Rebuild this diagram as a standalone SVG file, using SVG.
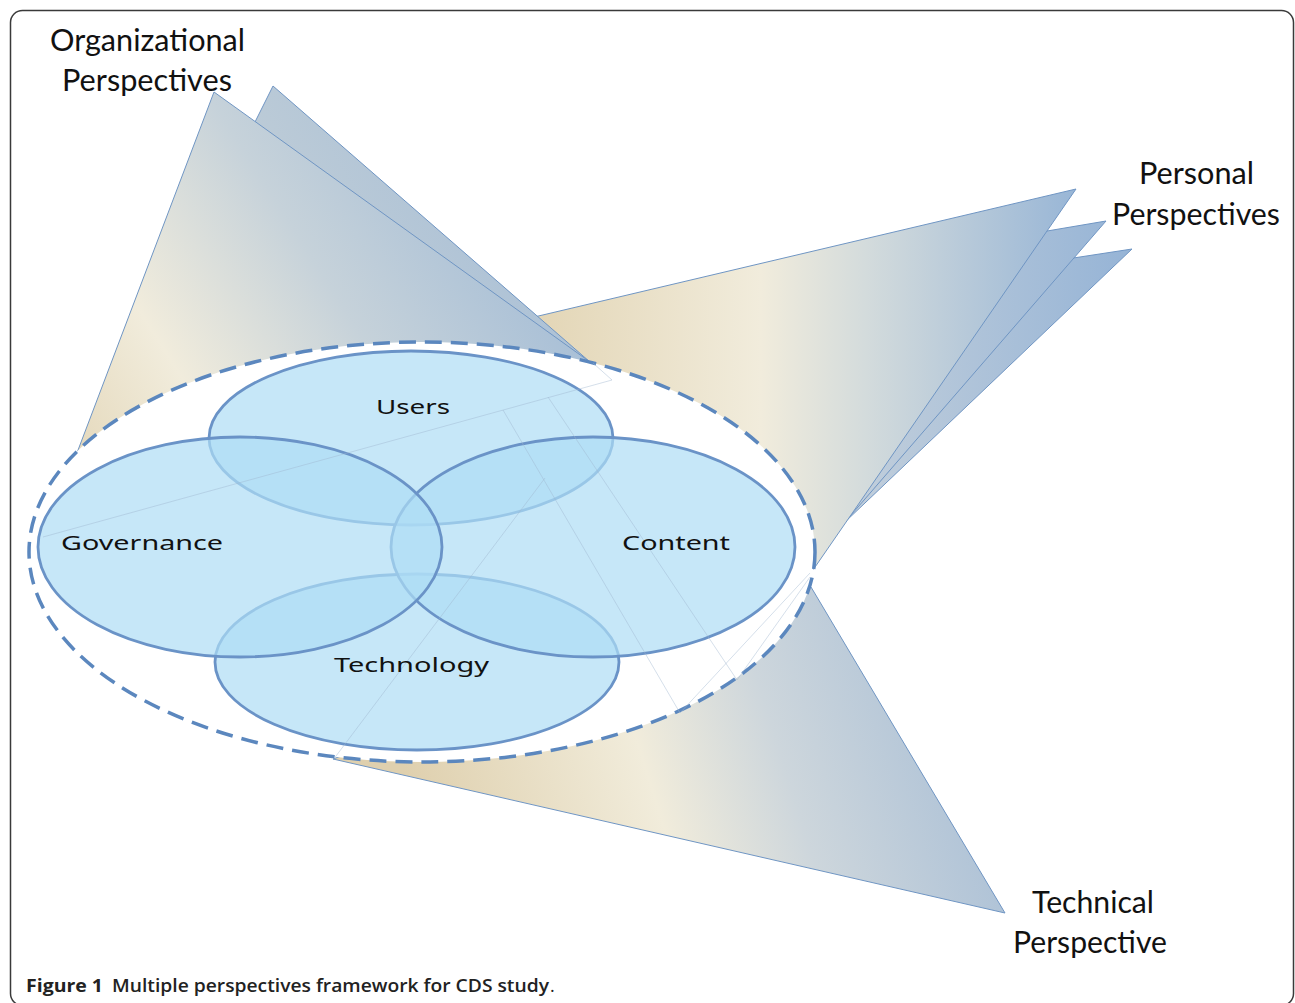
<svg xmlns="http://www.w3.org/2000/svg" width="1295" height="1003" viewBox="0 0 1295 1003">
<style>
.tri{stroke:#6f95c3;stroke-width:1;}
.venn{fill:rgb(174,221,245);fill-opacity:0.7;stroke:#6a93c7;stroke-width:2.8;}
.vl{font-family:"Noto Sans","Open Sans",sans-serif;font-size:20px;fill:#111;}
.pl{font-family:Lato,"Open Sans",sans-serif;font-size:30px;fill:#111;}
.faint{fill:none;stroke:#9fb6cf;stroke-width:0.8;stroke-opacity:0.55;}
.cap{font-family:"Open Sans","Liberation Sans",sans-serif;font-size:18px;fill:#222;}
</style>
<defs>
<linearGradient id="gOrgF" gradientUnits="userSpaceOnUse" x1="60" y1="470" x2="520" y2="180">
<stop offset="0" stop-color="#e3d6b7"/><stop offset="0.28" stop-color="#f1ecdc"/><stop offset="0.6" stop-color="#c6d2da"/><stop offset="1" stop-color="#a3bcd6"/>
</linearGradient>
<linearGradient id="gOrgB" gradientUnits="userSpaceOnUse" x1="150" y1="420" x2="560" y2="160">
<stop offset="0" stop-color="#dcdcd0"/><stop offset="0.5" stop-color="#bccbd7"/><stop offset="1" stop-color="#a5bdd6"/>
</linearGradient>
<linearGradient id="gPerF" gradientUnits="userSpaceOnUse" x1="520" y1="0" x2="1080" y2="0">
<stop offset="0" stop-color="#e2d4b3"/><stop offset="0.43" stop-color="#f1ecdc"/><stop offset="0.62" stop-color="#d3dbdc"/><stop offset="1" stop-color="#97b5d6"/>
</linearGradient>
<linearGradient id="gPerB" gradientUnits="userSpaceOnUse" x1="820" y1="0" x2="1130" y2="0">
<stop offset="0" stop-color="#c7d2dc"/><stop offset="1" stop-color="#96b4d6"/>
</linearGradient>
<linearGradient id="gTech" gradientUnits="userSpaceOnUse" x1="420" y1="820" x2="1000" y2="640">
<stop offset="0" stop-color="#dfd0ae"/><stop offset="0.38" stop-color="#f1ecdb"/><stop offset="0.6" stop-color="#cdd6dc"/><stop offset="1" stop-color="#a3bbd5"/>
</linearGradient>
</defs>

<rect x="10.5" y="10.5" width="1283" height="995" rx="12" fill="#fff" stroke="#3a3a3a" stroke-width="1.5"/>

<g id="personal-perspectives">
<polygon class="tri" points="1132,249 845,522 800,300" fill="url(#gPerB)"/>
<polygon class="tri" points="1106,221 845,522 700,290" fill="url(#gPerB)"/>
<polygon class="tri" points="1076,189 813,570 420,344" fill="url(#gPerF)"/>
</g>

<g id="technical-perspective">
<polygon class="tri" points="333,759 1005,913 811,587" fill="url(#gTech)"/>
</g>

<g id="organizational-perspectives">
<polygon class="tri" points="273,86 590,362 200,232" fill="url(#gOrgB)"/>
<polygon class="tri" points="214,92 590,362 42,545" fill="url(#gOrgF)"/>
</g>

<g id="boundary">
<ellipse cx="422" cy="552" rx="393" ry="210" fill="#fff" stroke="#5b87be" stroke-width="3.5" stroke-dasharray="17 9"/>
</g>

<g id="users">
<ellipse class="venn" cx="411" cy="438" rx="202" ry="87"/>
</g>
<g id="technology">
<ellipse class="venn" cx="417" cy="662" rx="202" ry="88"/>
</g>
<g id="content">
<ellipse class="venn" cx="593" cy="547" rx="202" ry="110"/>
</g>
<g id="governance">
<ellipse class="venn" cx="240" cy="547" rx="202" ry="110"/>
</g>

<g id="connectors">
<polyline class="faint" points="43,537 612,380 593,363"/>
<polyline class="faint" points="503,410 680,713 810,573"/>
<polyline class="faint" points="548,397 737,680 810,577"/>
<line class="faint" x1="545" y1="478" x2="333" y2="760"/>
</g>

<g id="labels">
<text class="vl" x="376" y="414" textLength="74" lengthAdjust="spacingAndGlyphs">Users</text>
<text class="vl" x="61" y="550" textLength="162" lengthAdjust="spacingAndGlyphs">Governance</text>
<text class="vl" x="622" y="550" textLength="108" lengthAdjust="spacingAndGlyphs">Content</text>
<text class="vl" x="334" y="672" textLength="155" lengthAdjust="spacingAndGlyphs">Technology</text>

<text class="pl" x="50" y="51" textLength="195" lengthAdjust="spacingAndGlyphs">Organizational</text>
<text class="pl" x="62" y="91" textLength="170" lengthAdjust="spacingAndGlyphs">Perspectives</text>
<text class="pl" x="1139" y="184" textLength="115" lengthAdjust="spacingAndGlyphs">Personal</text>
<text class="pl" x="1112" y="225" textLength="168" lengthAdjust="spacingAndGlyphs">Perspectives</text>
<text class="pl" x="1032" y="913" textLength="122" lengthAdjust="spacingAndGlyphs">Technical</text>
<text class="pl" x="1013" y="953" textLength="154" lengthAdjust="spacingAndGlyphs">Perspective</text>
</g>

<g id="caption">
<text class="cap" x="26" y="992" font-weight="700" textLength="77" lengthAdjust="spacingAndGlyphs">Figure 1</text>
<text class="cap" x="112" y="992" font-weight="600" textLength="437" lengthAdjust="spacingAndGlyphs">Multiple perspectives framework for CDS study</text>
<text class="cap" x="550" y="992" fill="#666">.</text>
</g>
</svg>
